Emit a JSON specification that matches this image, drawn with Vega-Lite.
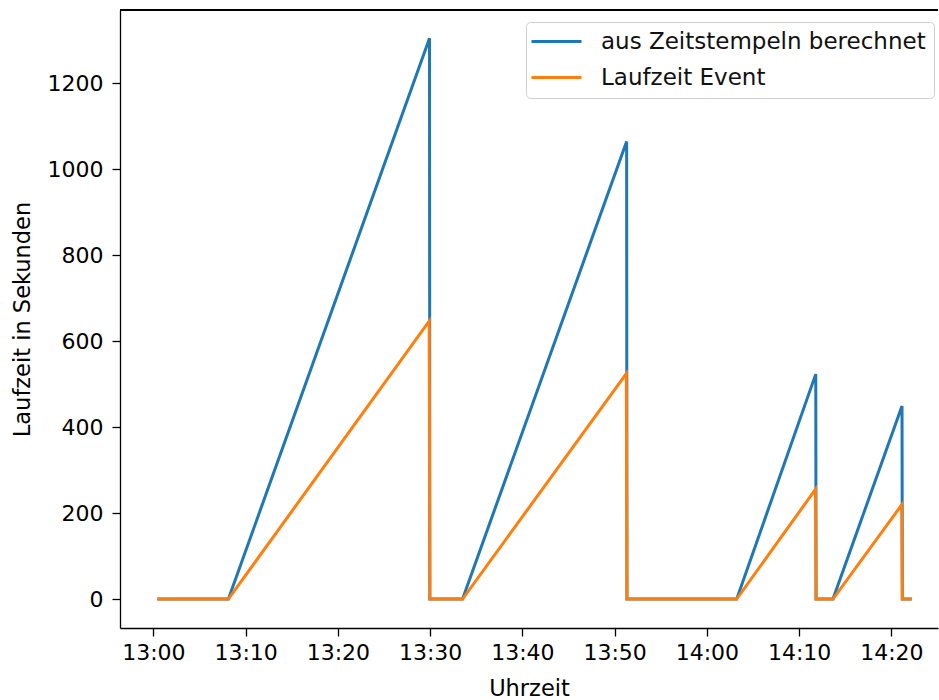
{
  "$schema": "https://vega.github.io/schema/vega-lite/v6.json",
  "width": 818,
  "height": 618,
  "autosize": {"type": "none"},
  "padding": {"left": 120, "top": 10, "right": 1, "bottom": 72},
  "background": "white",
  "config": {
    "view": {"stroke": null},
    "font": "DejaVu Sans",
    "axis": {
      "labelFont": "DejaVu Sans",
      "labelFontSize": 22,
      "labelColor": "#000",
      "titleFont": "DejaVu Sans",
      "titleFontSize": 22.5,
      "titleFontWeight": "normal",
      "titleColor": "#000",
      "tickColor": "#000",
      "tickSize": 8,
      "tickWidth": 1.3,
      "domainColor": "#000",
      "domainWidth": 1.3,
      "grid": false
    },
    "legend": {
      "labelFont": "DejaVu Sans",
      "labelFontSize": 23,
      "labelColor": "#111"
    }
  },
  "data": {
    "values": [
      {"t": "2023-01-01T13:00:25", "v": 0, "s": "aus Zeitstempeln berechnet"},
      {"t": "2023-01-01T13:08:08", "v": 0, "s": "aus Zeitstempeln berechnet"},
      {"t": "2023-01-01T13:29:56", "v": 1304, "s": "aus Zeitstempeln berechnet"},
      {"t": "2023-01-01T13:29:58", "v": 0, "s": "aus Zeitstempeln berechnet"},
      {"t": "2023-01-01T13:33:31", "v": 0, "s": "aus Zeitstempeln berechnet"},
      {"t": "2023-01-01T13:51:18", "v": 1064, "s": "aus Zeitstempeln berechnet"},
      {"t": "2023-01-01T13:51:20", "v": 0, "s": "aus Zeitstempeln berechnet"},
      {"t": "2023-01-01T14:03:14", "v": 0, "s": "aus Zeitstempeln berechnet"},
      {"t": "2023-01-01T14:11:48", "v": 523, "s": "aus Zeitstempeln berechnet"},
      {"t": "2023-01-01T14:11:50", "v": 0, "s": "aus Zeitstempeln berechnet"},
      {"t": "2023-01-01T14:13:40", "v": 0, "s": "aus Zeitstempeln berechnet"},
      {"t": "2023-01-01T14:21:09", "v": 449, "s": "aus Zeitstempeln berechnet"},
      {"t": "2023-01-01T14:21:11", "v": 0, "s": "aus Zeitstempeln berechnet"},
      {"t": "2023-01-01T14:22:12", "v": 0, "s": "aus Zeitstempeln berechnet"},
      {"t": "2023-01-01T13:00:25", "v": 0, "s": "Laufzeit Event"},
      {"t": "2023-01-01T13:08:08", "v": 0, "s": "Laufzeit Event"},
      {"t": "2023-01-01T13:29:54", "v": 646, "s": "Laufzeit Event"},
      {"t": "2023-01-01T13:29:58", "v": 0, "s": "Laufzeit Event"},
      {"t": "2023-01-01T13:33:31", "v": 0, "s": "Laufzeit Event"},
      {"t": "2023-01-01T13:51:16", "v": 524, "s": "Laufzeit Event"},
      {"t": "2023-01-01T13:51:20", "v": 0, "s": "Laufzeit Event"},
      {"t": "2023-01-01T14:03:14", "v": 0, "s": "Laufzeit Event"},
      {"t": "2023-01-01T14:11:46", "v": 255, "s": "Laufzeit Event"},
      {"t": "2023-01-01T14:11:50", "v": 0, "s": "Laufzeit Event"},
      {"t": "2023-01-01T14:13:40", "v": 0, "s": "Laufzeit Event"},
      {"t": "2023-01-01T14:21:07", "v": 219, "s": "Laufzeit Event"},
      {"t": "2023-01-01T14:21:11", "v": 0, "s": "Laufzeit Event"},
      {"t": "2023-01-01T14:22:12", "v": 0, "s": "Laufzeit Event"}
    ]
  },
  "encoding": {
    "x": {
      "field": "t",
      "type": "temporal",
      "title": "Uhrzeit",
      "scale": {
        "domain": [
          {"year": 2023, "month": 1, "date": 1, "hours": 12, "minutes": 56, "seconds": 23},
          {"year": 2023, "month": 1, "date": 1, "hours": 14, "minutes": 25, "seconds": 3}
        ]
      },
      "axis": {
        "format": "%H:%M",
        "labelPadding": 6,
        "titlePadding": 14,
        "labelFlush": false,
        "values": [
          {"year": 2023, "month": 1, "date": 1, "hours": 13, "minutes": 0},
          {"year": 2023, "month": 1, "date": 1, "hours": 13, "minutes": 10},
          {"year": 2023, "month": 1, "date": 1, "hours": 13, "minutes": 20},
          {"year": 2023, "month": 1, "date": 1, "hours": 13, "minutes": 30},
          {"year": 2023, "month": 1, "date": 1, "hours": 13, "minutes": 40},
          {"year": 2023, "month": 1, "date": 1, "hours": 13, "minutes": 50},
          {"year": 2023, "month": 1, "date": 1, "hours": 14, "minutes": 0},
          {"year": 2023, "month": 1, "date": 1, "hours": 14, "minutes": 10},
          {"year": 2023, "month": 1, "date": 1, "hours": 14, "minutes": 20}
        ]
      }
    },
    "y": {
      "field": "v",
      "type": "quantitative",
      "title": "Laufzeit in Sekunden",
      "scale": {"domain": [-67.4, 1369.8], "nice": false, "zero": false},
      "axis": {
        "values": [0, 200, 400, 600, 800, 1000, 1200],
        "format": "d",
        "labelPadding": 9,
        "titlePadding": 13
      }
    },
    "color": {
      "field": "s",
      "type": "nominal",
      "scale": {
        "domain": ["aus Zeitstempeln berechnet", "Laufzeit Event"],
        "range": ["#1f77b4", "#ff7f0e"]
      },
      "legend": {
        "title": null,
        "orient": "none",
        "legendX": 406,
        "legendY": 12,
        "symbolType": "M-5,0H5",
        "symbolSize": 100,
        "symbolStrokeWidth": 3,
        "symbolFillColor": "transparent",
        "symbolOffset": 11,
        "labelOffset": 33,
        "labelLimit": 0,
        "padding": 8,
        "rowPadding": 12,
        "fillColor": "white",
        "strokeColor": "#d0d0d0",
        "cornerRadius": 4
      }
    }
  },
  "layer": [
    {
      "transform": [{"filter": "datum.s === 'aus Zeitstempeln berechnet'"}],
      "mark": {"type": "line", "strokeWidth": 3}
    },
    {
      "transform": [{"filter": "datum.s === 'Laufzeit Event'"}],
      "mark": {"type": "line", "strokeWidth": 3}
    },
    {
      "mark": {"type": "rule", "color": "#000", "strokeWidth": 1.3},
      "encoding": {"y": {"datum": 1369.8}, "x": null, "color": null}
    }
  ]
}
